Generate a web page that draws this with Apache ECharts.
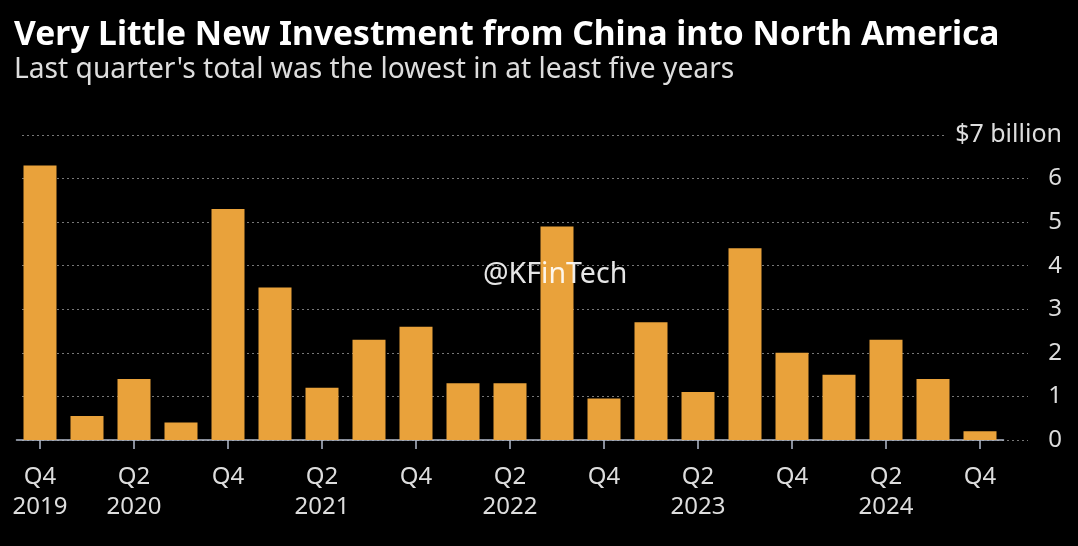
<!DOCTYPE html>
<html><head><meta charset="utf-8">
<script src="https://cdn.jsdelivr.net/npm/echarts@6/dist/echarts.min.js"></script>
<style>html,body{margin:0;padding:0;background:#000;}#c{width:1078px;height:546px;}</style>
</head><body><div id="c"></div>
<script>
const titleText = 'Very Little New Investment from China into North America';
const subtitleText = "Last quarter's total was the lowest in at least five years";
const categories = ['Q4 2019','Q1 2020','Q2 2020','Q3 2020','Q4 2020','Q1 2021','Q2 2021','Q3 2021','Q4 2021','Q1 2022','Q2 2022','Q3 2022','Q4 2022','Q1 2023','Q2 2023','Q3 2023','Q4 2023','Q1 2024','Q2 2024','Q3 2024','Q4 2024'];
const investment = [6.3,0.55,1.4,0.4,5.3,3.5,1.2,2.3,2.6,1.3,1.3,4.9,0.95,2.7,1.1,4.4,2.0,1.5,2.3,1.4,0.2];
const xTickLabels = ['Q4\n2019','','Q2\n2020','','Q4','','Q2\n2021','','Q4','','Q2\n2022','','Q4','','Q2\n2023','','Q4','','Q2\n2024','','Q4'];
const yTickLabels = ['0','1','2','3','4','5','6','$7 billion'];
const watermarkText = '@KFinTech';
const FONT = '"Noto Sans", "Open Sans", sans-serif';

const chart = echarts.init(document.getElementById('c'), null, {renderer:'canvas'});
chart.setOption({
  backgroundColor:'#000',
  animation:false,
  title:[{
    text:titleText, left:9, top:13,
    textStyle:{color:'#fff', fontFamily:FONT, fontWeight:'bold', fontSize:33.6}
  },{
    text:subtitleText, left:9, top:51,
    textStyle:{color:'#ddd', fontFamily:FONT, fontWeight:'normal', fontSize:28.2}
  }],
  grid:[
    {left:16.5, right:74.5, top:135, bottom:106},
    {left:22, right:50, top:135, bottom:106}
  ],
  xAxis:[{
    type:'category', gridIndex:0, data:categories,
    axisLine:{show:true, lineStyle:{color:'#b4bccb', width:1.5}},
    axisTick:{show:true, alignWithLabel:true, interval:1, length:9, lineStyle:{color:'#b4bccb', width:1.5}},
    axisLabel:{interval:0, margin:22, color:'#ddd', fontFamily:FONT, fontSize:24, lineHeight:30,
      formatter:(v,i)=>xTickLabels[i]}
  },{
    type:'value', gridIndex:1, show:false, min:0, max:1
  }],
  yAxis:[{
    type:'value', gridIndex:0, min:0, max:7, interval:1, show:false
  },{
    type:'value', gridIndex:1, position:'right', min:0, max:7, interval:1,
    axisLine:{show:false}, axisTick:{show:false},
    splitLine:{show:true, lineStyle:{color:'#777', type:[2,3], width:1}},
    axisLabel:{margin:34, align:'right', color:'#ddd', fontFamily:FONT, fontSize:24,
      formatter:(v)=>{const s=yTickLabels[Math.round(v)]; return v===7?'{t|'+s+'}':s;},
      rich:{t:{backgroundColor:'#000', padding:[2,0,2,10], color:'#ddd', fontFamily:FONT, fontSize:25}}}
  }],
  series:[{
    type:'bar', xAxisIndex:0, yAxisIndex:0, data:investment,
    barWidth:33, itemStyle:{color:'#E9A23B'}, z:3
  }],
  graphic:[{
    type:'text', left:483, top:260, z:100,
    style:{text:watermarkText, fill:'rgba(255,255,255,0.9)', font:'28.5px '+FONT}
  }]
});
</script></body></html>
